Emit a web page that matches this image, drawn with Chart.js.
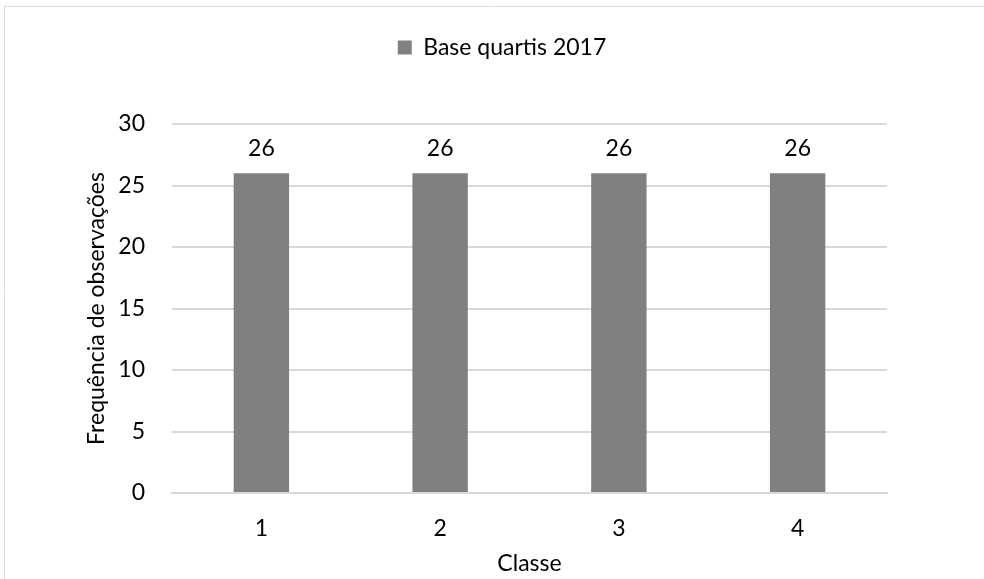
<!DOCTYPE html>
<html>
<head>
<meta charset="utf-8">
<script src="https://cdn.jsdelivr.net/npm/chart.js@4/dist/chart.umd.min.js"></script>
<style>
  html, body { margin: 0; padding: 0; background: #fff; }
  #wrap { width: 984px; height: 579px; position: relative; }
</style>
</head>
<body>
<div id="wrap"><canvas id="myBarChart"></canvas></div>
<script>
// データ
var classes = ["1", "2", "3", "4"];
var baseQuartis2017 = [26, 26, 26, 26];
var yTicks = [0, 5, 10, 15, 20, 25, 30];

var fontFamily = "Lato, 'Open Sans', sans-serif";
var fontSize = 23;
var textColor = "#000";

//枠線（左と上だけ見える）
var framePlugin = {
  id: "frame",
  beforeDraw: function(chart) {
    var c = chart.ctx;
    c.save();
    c.fillStyle = "#fff";
    c.fillRect(0, 0, chart.width, chart.height);
    c.strokeStyle = "#d9d9d9";
    c.lineWidth = 1;
    c.beginPath();
    c.moveTo(4.5, chart.height);
    c.lineTo(4.5, 6.5);
    c.lineTo(chart.width, 6.5);
    c.stroke();
    c.restore();
  }
};

//凡例の下に余白を足す・少し右へずらす
var legendGap = {
  id: "legendGap",
  beforeInit: function(chart) {
    var fit = chart.legend.fit;
    chart.legend.fit = function() {
      fit.bind(chart.legend)();
      this.height += 55;
    };
  },
  afterLayout: function(chart) {
    chart.legend.left += 19;
    chart.legend.right += 19;
  }
};

//棒の上に値を表示
var valueLabels = {
  id: "valueLabels",
  afterDatasetsDraw: function(chart) {
    var c = chart.ctx;
    var meta = chart.getDatasetMeta(0);
    c.save();
    c.font = fontSize + "px " + fontFamily;
    c.fillStyle = textColor;
    c.textAlign = "center";
    c.textBaseline = "middle";
    meta.data.forEach(function(bar, i) {
      c.fillText(String(chart.data.datasets[0].data[i]), bar.x, bar.y - 25);
    });
    c.restore();
  }
};

var ctx = document.getElementById("myBarChart");

var myBarChart = new Chart(ctx, {
  type: 'bar',
  data: {
    labels: classes,
    datasets: [
      {
        label: "Base quartis 2017",
        backgroundColor: "#808080",
        borderWidth: 0,
        categoryPercentage: 1,
        barPercentage: 0.31,
        data: baseQuartis2017,
      }
    ]
  },
  options: {
    responsive: true,
    maintainAspectRatio: false,
    animation: false,
    layout: {
      padding: { left: 79, right: 97, top: 26, bottom: 0 }
    },
    plugins: {
      tooltip: { enabled: false },
      legend: {
        position: "top",
        labels: {
          boxWidth: 14,
          boxHeight: 14,
          padding: 10,
          color: textColor,
          font: { family: fontFamily, size: fontSize }
        }
      }
    },
    scales: {
      x: {
        grid: { display: false, drawTicks: false },
        border: { display: true, color: "#d9d9d9", width: 2 },
        ticks: {
          color: textColor,
          padding: 22,
          font: { family: fontFamily, size: fontSize }
        },
        title: {
          display: true,
          text: "Classe",
          color: textColor,
          padding: { top: 4, bottom: 2 },
          font: { family: fontFamily, size: fontSize }
        },
        afterFit: function(scale) { scale.height = 86; }
      },
      y: {
        min: 0,
        max: 30,
        grid: { color: "#d9d9d9", lineWidth: 2, drawTicks: false },
        border: { display: false },
        afterBuildTicks: function(scale) {
          scale.ticks = yTicks.map(function(v) { return { value: v }; });
        },
        ticks: {
          color: textColor,
          padding: 27,
          font: { family: fontFamily, size: fontSize }
        },
        title: {
          display: true,
          text: "Frequência de observações",
          color: textColor,
          font: { family: fontFamily, size: fontSize }
        },
        afterFit: function(scale) { scale.width = 93; }
      }
    }
  },
  plugins: [framePlugin, legendGap, valueLabels]
});
</script>
</body>
</html>
